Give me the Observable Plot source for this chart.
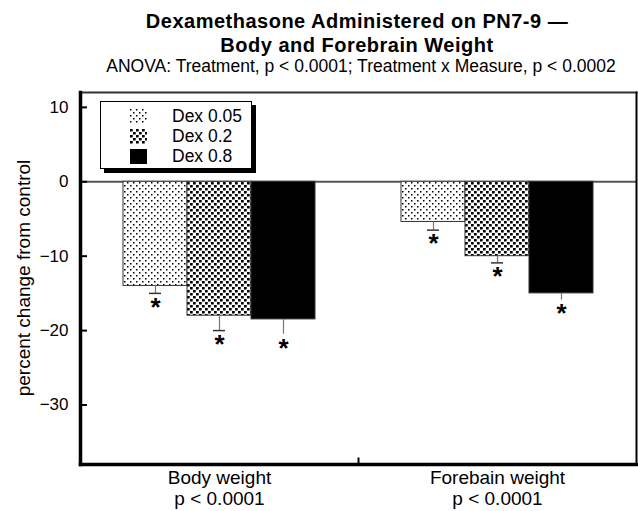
<!DOCTYPE html>
<html><head><meta charset="utf-8">
<script src="https://cdn.jsdelivr.net/npm/d3@7"></script>
<script src="https://cdn.jsdelivr.net/npm/@observablehq/plot@0.6"></script>
<style>
body{margin:0;background:#fff;font-family:"Liberation Sans",Arial,Helvetica,sans-serif;color:#000;}
#wrap{position:relative;width:638px;height:511px;overflow:hidden;background:#fff;}
#title{position:absolute;left:0;width:714px;top:9px;text-align:center;font-weight:bold;font-size:20px;line-height:24px;letter-spacing:0.5px;}
#sub{position:absolute;left:0;width:722px;top:56px;text-align:center;font-size:17.5px;line-height:20px;white-space:nowrap;}
#ylab{position:absolute;left:-126px;top:266px;width:300px;height:24px;line-height:24px;text-align:center;font-size:19px;transform:rotate(-90deg);white-space:nowrap;}
#chart{position:absolute;left:0;top:80px;}
#legend{position:absolute;left:100px;top:101px;width:150px;height:66px;border:1.5px solid #000;box-shadow:4px 4px 0 #000;background:#fff;}
.lrow{position:absolute;left:29px;height:19px;display:flex;align-items:center;font-size:17.5px;}
.lrow svg{display:block;}
.lrow span{margin-left:25px;}
</style></head>
<body>
<svg width="0" height="0" style="position:absolute">
  <defs>
    <pattern id="dex005" width="6" height="6" patternUnits="userSpaceOnUse">
      <rect width="6" height="6" fill="#fff"/>
      <rect x="0" y="0" width="1.5" height="1.5" fill="#000"/>
      <rect x="3" y="3" width="1.5" height="1.5" fill="#000"/>
    </pattern>
    <pattern id="dex02" width="6" height="6" patternUnits="userSpaceOnUse">
      <rect width="6" height="6" fill="#fff"/>
      <rect x="0" y="0" width="2.7" height="2.5" fill="#000"/>
      <rect x="3" y="3" width="2.7" height="2.5" fill="#000"/>
    </pattern>
  </defs>
</svg>
<div id="wrap">
  <div id="title">Dexamethasone Administered on PN7-9 —<br>Body and Forebrain Weight</div>
  <div id="sub">ANOVA: Treatment, p &lt; 0.0001; Treatment x Measure, p &lt; 0.0002</div>
  <div id="chart"></div>
  <div id="ylab">percent change from control</div>
  <div id="legend"></div>
</div>
<script>
// ---- data ----
const groups = ["Body weight", "Forebain weight"];
const groupP = ["p < 0.0001", "p < 0.0001"];
const doses = ["Dex 0.05", "Dex 0.2", "Dex 0.8"];
const bodyChange = [-14, -18, -18.5];
const bodyErr = [1.0, 2.0, 2.0];
const forebrainChange = [-5.4, -10, -15];
const forebrainErr = [1.1, 0.9, 0.9];
const significance = ["*", "*", "*", "*", "*", "*"];
const yTicks = [10, 0, -10, -20, -30];
const yDomain = [-38, 12];
const doseFills = ["url(#dex005)", "url(#dex02)", "#000"];

// ---- tables ----
const changes = [bodyChange, forebrainChange];
const errs = [bodyErr, forebrainErr];
const rows = groups.flatMap((g, i) => doses.map((d, j) => ({
  group: g, dose: d, value: changes[i][j], low: changes[i][j] - errs[i][j],
  sig: significance[i * doses.length + j]
})));
const groupRows = groups.map((g, i) => ({group: g, label: g + "\n" + groupP[i]}));

const plot = Plot.plot({
  width: 638, height: 431,
  marginLeft: 79, marginRight: 2, marginTop: 12, marginBottom: 47,
  style: {fontFamily: "'Liberation Sans', Arial, sans-serif", fontSize: "17px", color: "#000", background: "transparent", overflow: "visible"},
  fx: {domain: groups, padding: 0, axis: null, label: null},
  x: {domain: doses, paddingInner: 0, paddingOuter: 0.643, axis: null},
  y: {domain: yDomain},
  color: {domain: doses, range: doseFills},
  marks: [
    Plot.ruleY([0], {stroke: "#555", strokeWidth: 2}),
    Plot.barY(rows, {fx: "group", x: "dose", y: "value", fill: "dose", stroke: "#333", strokeWidth: 1}),
    Plot.ruleX(rows, {fx: "group", x: "dose", y1: "value", y2: "low", stroke: "#777", strokeWidth: 1.2}),
    Plot.tickY(rows.filter(d => d.dose !== doses[2]), {fx: "group", x: "dose", y: "low", insetLeft: 26, insetRight: 26, stroke: "#333", strokeWidth: 1.5}),
    Plot.text(rows, {fx: "group", x: "dose", y: "low", text: "sig", fontSize: 26, fontWeight: "bold", dy: 14}),
    Plot.text(groupRows, {fx: "group", frameAnchor: "bottom", lineAnchor: "top", dy: 5, text: "label", fontSize: 19, lineHeight: 1.1}),
    Plot.axisY({facetAnchor: "left", ticks: yTicks, tickSize: -7, tickPadding: 19, strokeWidth: 2, fontSize: 17, label: null}),
    Plot.frame({anchor: "left", insetTop: 366, stroke: "#000", strokeWidth: 2}),
    Plot.frame({facet: "super", anchor: "top", stroke: "#333", strokeWidth: 2}),
    Plot.frame({facet: "super", anchor: "right", stroke: "#000", strokeWidth: 2}),
    Plot.frame({facet: "super", anchor: "bottom", stroke: "#000", strokeWidth: 3.5}),
    Plot.frame({facet: "super", anchor: "left", stroke: "#000", strokeWidth: 3.5})
  ]
});
document.getElementById("chart").appendChild(plot);

// legend from the plot's color scale
const cs = plot.scale("color");
const leg = document.getElementById("legend");
cs.domain.forEach((d, i) => {
  const row = document.createElement("div");
  row.className = "lrow";
  row.style.top = (5 + i * 20) + "px";
  row.innerHTML = `<svg width="17" height="15"><rect x="0" y="0" width="17" height="15" fill="${cs.range[i]}"/></svg><span>${d}</span>`;
  leg.appendChild(row);
});
</script>
</body></html>
